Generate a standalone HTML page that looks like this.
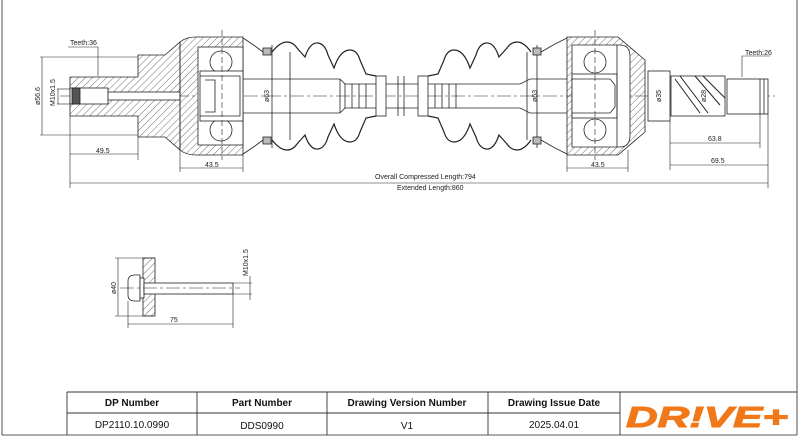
<!DOCTYPE html>
<html><head><meta charset="utf-8"><style>
html,body{margin:0;padding:0;background:#fff;}
svg{display:block;font-family:"Liberation Sans",sans-serif;}
</style></head><body>
<svg width="800" height="436" viewBox="0 0 800 436" xmlns="http://www.w3.org/2000/svg">
<defs>
<pattern id="h" width="5" height="5" patternUnits="userSpaceOnUse" patternTransform="rotate(45)">
<line x1="0" y1="0" x2="0" y2="5" stroke="#333" stroke-width="0.7"/>
</pattern>
</defs>
<g fill="none" stroke="#222" stroke-width="0.8">
<line x1="2" y1="0" x2="2" y2="435"/>
<line x1="797" y1="0" x2="797" y2="435"/>
<line x1="2" y1="435" x2="797" y2="435"/>
<line x1="60" y1="96" x2="775" y2="96" stroke-dasharray="14 3 3 3" stroke-width="0.6"/>

<!-- LEFT stub/flange hatched -->
<path d="M70 77 H138 V55 H165 L180 42 V150 L165 137 H138 V116 H70 Z" fill="url(#h)"/>
<rect x="70" y="88" width="38" height="16" fill="#fff"/>
<rect x="72" y="88" width="8" height="16" fill="#555"/>
<rect x="108" y="92" width="72" height="8" fill="#fff"/>
<!-- left CV housing -->
<path d="M180 42 Q186 37 196 37 H243 V155 H196 Q186 155 180 150 Z" fill="url(#h)"/>
<rect x="198" y="47" width="45" height="98" fill="#fff"/>
<circle cx="221" cy="62" r="11" fill="#fff"/>
<circle cx="221" cy="130" r="11" fill="#fff"/>
<rect x="200" y="71" width="43" height="50" fill="#fff"/>
<path d="M200 76 H240 V116 H200" />
<path d="M205 80 L215 80 V112 L205 112" />
<path d="M243 38 L255 46 L263 52 M243 154 L255 146 L263 140"/>
<rect x="263" y="48" width="8" height="7" fill="#bbb"/>
<rect x="263" y="137" width="8" height="7" fill="#bbb"/>
<!-- shaft -->
<path d="M243 79 H340 L345 84 H520 L530 79 H567 M243 113 H340 L345 108 H520 L530 113 H567" fill="#fff"/>
<line x1="272" y1="45" x2="272" y2="148"/>
<line x1="290" y1="52" x2="290" y2="140"/>
<line x1="340" y1="79" x2="340" y2="113"/>
<line x1="345" y1="84" x2="345" y2="108"/><line x1="352" y1="84" x2="352" y2="108"/><line x1="359" y1="84" x2="359" y2="108"/>
<line x1="366" y1="84" x2="366" y2="108"/>
<line x1="435" y1="84" x2="435" y2="108"/><line x1="442" y1="84" x2="442" y2="108"/><line x1="449" y1="84" x2="449" y2="108"/><line x1="456" y1="84" x2="456" y2="108"/>
<rect x="376" y="76" width="10" height="40" fill="#fff"/>
<rect x="418" y="76" width="10" height="40" fill="#fff"/>
<line x1="398" y1="76" x2="398" y2="116"/><line x1="404" y1="76" x2="404" y2="116"/>
<!-- left boot -->
<path d="M272 52 Q280 42 287 42 Q293 42 297 48 L305 57 Q310 42 318 43 Q325 44 328 55 L334 68 Q340 50 350 50 Q357 50 360 60 L366 74 L376 76 M272 140 Q280 150 287 150 Q293 150 297 144 L305 135 Q310 150 318 149 Q325 148 328 137 L334 124 Q340 142 350 142 Q357 142 360 132 L366 118 L376 116" stroke-width="1.2"/>
<!-- right boot -->
<path d="M428 76 L438 74 L444 60 Q447 50 454 50 Q464 50 470 68 L476 55 Q479 44 486 43 Q494 42 499 57 L507 48 Q511 42 517 42 Q524 42 531 52 M428 116 L438 118 L444 132 Q447 142 454 142 Q464 142 470 124 L476 137 Q479 148 486 149 Q494 150 499 135 L507 144 Q511 150 517 150 Q524 150 531 140" stroke-width="1.2"/>
<line x1="537" y1="45" x2="537" y2="148"/>
<line x1="527" y1="52" x2="527" y2="140"/>
<rect x="533" y="48" width="8" height="7" fill="#bbb"/>
<rect x="533" y="137" width="8" height="7" fill="#bbb"/>
<path d="M541 52 L555 44 L567 38 M541 140 L555 148 L567 154"/>
<!-- right CV housing -->
<path d="M567 37 H618 L645 60 V132 L618 155 H567 Z" fill="url(#h)"/>
<path d="M572 45 H620 Q630 45 630 57 V135 Q630 147 620 147 H572 Z" fill="#fff"/>
<circle cx="595" cy="62" r="11" fill="#fff"/>
<circle cx="595" cy="130" r="11" fill="#fff"/>
<rect x="572" y="74" width="45" height="44" fill="#fff"/>
<path d="M572 79 H610 L615 85 V107 L610 113 H572"/>
<line x1="617" y1="45" x2="617" y2="147"/>
<!-- right stub -->
<rect x="648" y="71" width="22" height="50" fill="#fff"/>
<rect x="671" y="76" width="54" height="40" fill="#fff"/>
<path d="M675 79 L700 113 M680 76 L708 113 M695 76 L720 105 M703 76 L725 98" stroke-width="1"/>
<rect x="727" y="79" width="41" height="35" fill="#fff"/>
<line x1="760" y1="79" x2="760" y2="114"/><line x1="764" y1="79" x2="764" y2="114"/>
<!-- dims -->
<g stroke-width="0.6">
<line x1="70" y1="116" x2="70" y2="188"/>
<line x1="138" y1="137" x2="138" y2="160"/>
<line x1="70" y1="154" x2="138" y2="154"/>
<line x1="180" y1="150" x2="180" y2="172"/><line x1="243" y1="155" x2="243" y2="172"/>
<line x1="180" y1="168" x2="243" y2="168"/>
<line x1="567" y1="155" x2="567" y2="172"/><line x1="628" y1="150" x2="628" y2="172"/>
<line x1="567" y1="168" x2="628" y2="168"/>
<line x1="670" y1="121" x2="670" y2="170"/><line x1="760" y1="114" x2="760" y2="148"/>
<line x1="768" y1="114" x2="768" y2="188"/>
<line x1="670" y1="143" x2="760" y2="143"/>
<line x1="670" y1="165" x2="768" y2="165"/>
<line x1="70" y1="183" x2="768" y2="183"/>
<line x1="40" y1="57" x2="138" y2="57"/><line x1="40" y1="135" x2="138" y2="135"/>
<line x1="42" y1="57" x2="42" y2="135"/>
<line x1="57" y1="89" x2="70" y2="89"/><line x1="57" y1="104" x2="70" y2="104"/><line x1="58" y1="89" x2="58" y2="104"/>
<path d="M68 47 H98 V76"/>
<path d="M742 77 V56 H770"/>
<line x1="222" y1="30" x2="222" y2="160" stroke-dasharray="6 3"/>
<line x1="595" y1="30" x2="595" y2="160" stroke-dasharray="6 3"/>
</g>
<!-- bolt -->
<rect x="143" y="258" width="12" height="58" fill="url(#h)"/>
<path d="M128 281 Q128 275 135 275 H140 V301 H135 Q128 301 128 295 Z" fill="#fff"/>
<rect x="140" y="278" width="4" height="20" fill="#fff"/>
<rect x="144" y="283" width="89" height="11" fill="#fff"/>
<line x1="120" y1="288" x2="240" y2="288" stroke-dasharray="14 3 3 3" stroke-width="0.5"/>
<g stroke-width="0.6">
<line x1="115" y1="258" x2="155" y2="258"/><line x1="115" y1="316" x2="155" y2="316"/>
<line x1="118" y1="258" x2="118" y2="316"/>
<line x1="233" y1="283" x2="252" y2="283"/><line x1="233" y1="294" x2="252" y2="294"/>
<line x1="250" y1="276" x2="250" y2="300"/>
<line x1="128" y1="301" x2="128" y2="328"/><line x1="233" y1="294" x2="233" y2="328"/>
<line x1="128" y1="324" x2="233" y2="324"/>
</g>
<g stroke="#333" stroke-width="0.9">
<line x1="67" y1="392" x2="797" y2="392"/>
<line x1="67" y1="413" x2="620" y2="413"/>
<line x1="67" y1="392" x2="67" y2="435"/>
<line x1="197" y1="392" x2="197" y2="435"/>
<line x1="327" y1="392" x2="327" y2="435"/>
<line x1="488" y1="392" x2="488" y2="435"/>
<line x1="620" y1="392" x2="620" y2="435"/>
</g>
</g>
<g font-size="7" fill="#222">
<text x="70" y="45">Teeth:36</text>
<text x="745" y="55">Teeth:26</text>
<text x="96" y="153">49.5</text>
<text x="205" y="167">43.5</text>
<text x="591" y="167">43.5</text>
<text x="708" y="141">63.8</text>
<text x="711" y="163">69.5</text>
<text x="375" y="179">Overall Compressed Length:794</text>
<text x="397" y="190">Extended Length:860</text>
<text x="170" y="322">75</text>
<text transform="translate(40,105) rotate(-90)">ø56.6</text>
<text transform="translate(55,106) rotate(-90)">M10x1.5</text>
<text transform="translate(269,102) rotate(-90)">ø63</text>
<text transform="translate(537,102) rotate(-90)">ø63</text>
<text transform="translate(661,102) rotate(-90)">ø35</text>
<text transform="translate(706,102) rotate(-90)">ø28</text>
<text transform="translate(116,294) rotate(-90)">ø40</text>
<text transform="translate(248,276) rotate(-90)">M10x1.5</text>
</g>
<g font-size="10" fill="#111" text-anchor="middle">
<text x="132" y="406" font-weight="bold">DP Number</text>
<text x="262" y="406" font-weight="bold">Part Number</text>
<text x="407" y="406" font-weight="bold">Drawing Version Number</text>
<text x="554" y="406" font-weight="bold">Drawing Issue Date</text>
<text x="132" y="428">DP2110.10.0990</text>
<text x="262" y="429">DDS0990</text>
<text x="407" y="429">V1</text>
<text x="554" y="428">2025.04.01</text>
</g>
<text x="626" y="427" font-size="29" font-weight="bold" font-style="italic" fill="#f07818" stroke="#f07818" stroke-width="1" textLength="162" lengthAdjust="spacingAndGlyphs">DR!VE+</text>
</svg>
</body></html>
